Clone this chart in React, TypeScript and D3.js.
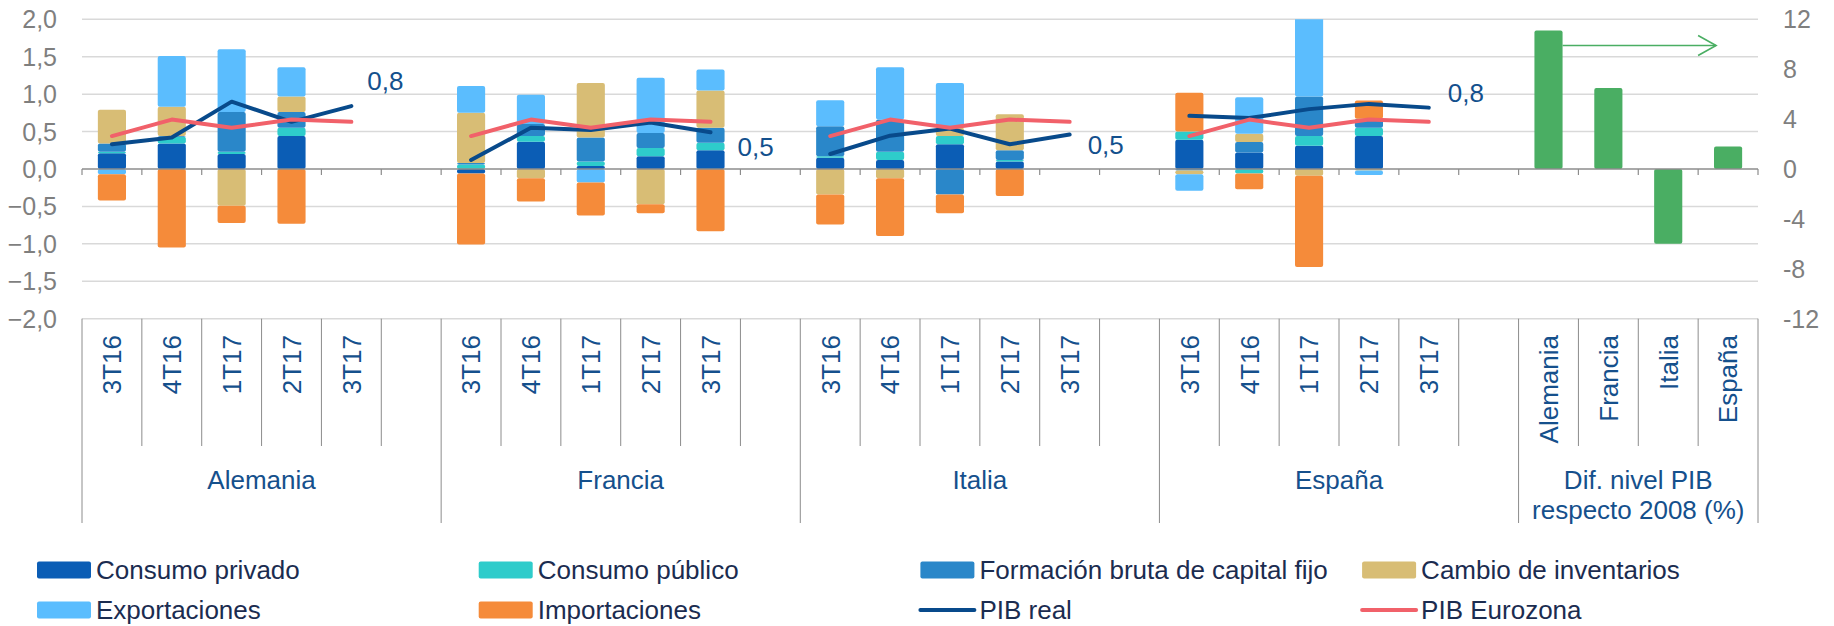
import React, { useEffect, useRef } from 'react'
import * as d3 from 'd3'

const countries = ['Alemania', 'Francia', 'Italia', 'España']
const quarters = ['3T16', '4T16', '1T17', '2T17', '3T17']

// contribuciones al crecimiento trimestral (pp), pais x trimestre (null = sin dato)
const consumoPrivado = [0.21, 0.34, 0.20, 0.44, null, -0.06, 0.365, 0.04, 0.17, 0.25, 0.15, 0.12, 0.33, 0.10, null, 0.39, 0.22, 0.31, 0.44, null]
const consumoPublico = [0.02, 0.09, 0.03, 0.11, null, 0.06, 0.076, 0.06, 0.11, 0.10, 0.02, 0.11, 0.11, 0.02, null, 0.11, -0.06, 0.13, 0.11, null]
const fbcf = [0.11, 0.01, 0.53, 0.21, null, 0.02, 0.16, 0.32, 0.20, 0.20, 0.40, 0.43, -0.34, 0.13, null, -0.02, 0.14, 0.53, 0.12, null]
const inventarios = [0.45, 0.39, -0.49, 0.21, null, 0.67, -0.125, 0.73, -0.47, 0.50, -0.34, -0.125, 0.11, 0.48, null, -0.05, 0.11, -0.09, -0.02, null]
const exportaciones = [-0.07, 0.68, 0.84, 0.39, null, 0.36, 0.39, -0.18, 0.74, 0.28, 0.35, 0.70, 0.60, 0, null, -0.22, 0.49, 1.12, -0.06, null]
const importaciones = [-0.35, -1.05, -0.23, -0.73, null, -0.95, -0.31, -0.44, -0.12, -0.83, -0.40, -0.77, -0.25, -0.36, null, 0.52, -0.21, -1.22, 0.245, null]

const pibReal = [0.33, 0.42, 0.90, 0.63, 0.84, 0.12, 0.55, 0.52, 0.62, 0.49, 0.20, 0.445, 0.54, 0.33, 0.46, 0.71, 0.68, 0.80, 0.87, 0.82]
const pibEurozona = [0.44, 0.66, 0.55, 0.66, 0.63]

// diferencia nivel PIB respecto 2008 (%), eje derecho
const difNivel = [11.1, 6.5, -6.0, 1.8]

const leftTicks = [2, 1.5, 1, 0.5, 0, -0.5, -1, -1.5, -2]
const rightTicks = [12, 8, 4, 0, -4, -8, -12]

const seriesNames = ['Consumo privado', 'Consumo público', 'Formación bruta de capital fijo', 'Cambio de inventarios', 'Exportaciones', 'Importaciones']
const seriesColors = ['#0b5db5', '#2ecccb', '#2a87c9', '#d8bd75', '#5bbdfe', '#f58b3a']
const seriesValues = [consumoPrivado, consumoPublico, fbcf, inventarios, exportaciones, importaciones]

const lineNames = ['PIB real', 'PIB Eurozona']
const lineColors = ['#084a8b', '#f1616a']
const green = '#4aae63'

// small nudges for the last-point labels (dx, dy)
const labelNudge = [[16, -25], [27, 14], [18, 10], [19, -15]]

const W = 1834, H = 626
const FONT = '"Liberation Sans", Arial, sans-serif'
const fmt = (v: number) => d3.format('.1f')(v).replace('.', ',')

function drawChart(el: SVGSVGElement) {
    const svg = d3.select(el)
    svg.selectAll('*').remove()

    const slots: string[] = []
    countries.forEach(c => {
        quarters.forEach(q => slots.push(c + '|' + q))
        slots.push(c + '|gap')
    })
    countries.forEach(c => slots.push('dif|' + c))

    const x = d3.scaleBand().domain(slots).range([82, 1758]).padding(0)
    const bw = x.bandwidth()
    const barW = bw * 0.47
    const y = d3.scaleLinear().domain([-2, 2]).range([318.7, 19.3])
    const yR = d3.scaleLinear().domain([-12, 12]).range([318.7, 19.3])
    const [x0, x1] = x.range()

    svg.append('defs').append('clipPath').attr('id', 'plotClip')
        .append('rect').attr('x', x0).attr('y', y(2)).attr('width', x1 - x0).attr('height', y(-2) - y(2))

    // gridlines
    svg.append('g').selectAll('line').data(leftTicks.filter(t => t !== 0)).join('line')
        .attr('x1', x0).attr('x2', x1)
        .attr('y1', d => y(d)).attr('y2', d => y(d))
        .attr('stroke', '#d9d9d9').attr('stroke-width', 1.5)

    // left ticks
    svg.append('g').selectAll('text').data(leftTicks).join('text')
        .attr('x', 57).attr('y', d => y(d)).attr('dy', '0.36em')
        .attr('text-anchor', 'end')
        .style('font-family', FONT).style('font-size', '25px').attr('fill', '#7f7f7f')
        .text(d => fmt(d))

    // right ticks
    svg.append('g').selectAll('text').data(rightTicks).join('text')
        .attr('x', 1783).attr('y', d => yR(d)).attr('dy', '0.36em')
        .style('font-family', FONT).style('font-size', '25px').attr('fill', '#7f7f7f')
        .text(d => String(d))

    // stacked bars
    const rows = countries.flatMap((c, ci) => quarters.map((q, qi) => {
        const row: any = { key: c + '|' + q }
        seriesNames.forEach((s, si) => { row[s] = seriesValues[si][ci * quarters.length + qi] ?? 0 })
        return row
    }))
    const stacked = d3.stack().keys(seriesNames).offset(d3.stackOffsetDiverging)(rows)

    const barsG = svg.append('g').attr('clip-path', 'url(#plotClip)')
    stacked.forEach((layer, li) => {
        barsG.append('g').selectAll('rect')
            .data(layer.filter(d => d[1] - d[0] !== 0))
            .join('rect')
            .attr('x', d => (x((d.data as any).key) as number) + (bw - barW) / 2)
            .attr('width', barW)
            .attr('y', d => y(Math.max(d[0], d[1])))
            .attr('height', d => Math.abs(y(d[0]) - y(d[1])))
            .attr('rx', 2)
            .attr('fill', seriesColors[li])
    })

    // green bars (right axis)
    svg.append('g').selectAll('rect').data(difNivel).join('rect')
        .attr('x', (d, i) => (x('dif|' + countries[i]) as number) + (bw - barW) / 2)
        .attr('width', barW)
        .attr('y', d => yR(Math.max(0, d)))
        .attr('height', d => Math.abs(yR(d) - yR(0)))
        .attr('rx', 2)
        .attr('fill', green)

    // arrow annotation
    const ax0 = (x('dif|Alemania') as number) + (bw + barW) / 2
    const ax1 = (x('dif|España') as number) + bw * 0.3
    const ay = yR(9.9)
    const arrow = svg.append('g').attr('stroke', green).attr('stroke-width', 1.6).attr('fill', 'none')
    arrow.append('line').attr('x1', ax0).attr('x2', ax1).attr('y1', ay).attr('y2', ay)
    arrow.append('path').attr('d', `M${ax1 - 18},${ay - 10}L${ax1},${ay}L${ax1 - 18},${ay + 10}`)

    // zero axis with ticks
    const axisG = svg.append('g').attr('stroke', '#8c8c8c')
    axisG.append('line').attr('x1', x0).attr('x2', x1).attr('y1', y(0)).attr('y2', y(0)).attr('stroke-width', 1.5)
    const bounds = slots.map(s => x(s) as number).concat([x1])
    axisG.selectAll('line.tk').data(bounds).join('line').attr('class', 'tk')
        .attr('x1', d => d).attr('x2', d => d).attr('y1', y(0)).attr('y2', y(0) + 6)
        .attr('stroke-width', 1.2)

    // category axis separators
    const groupStarts = new Set<number>()
    countries.forEach(c => groupStarts.add(x(c + '|' + quarters[0]) as number))
    groupStarts.add(x('dif|' + countries[0]) as number)
    groupStarts.add(x1)
    const catG = svg.append('g').attr('stroke', '#8c8c8c').attr('stroke-width', 1)
    catG.selectAll('line').data(bounds).join('line')
        .attr('x1', d => d).attr('x2', d => d)
        .attr('y1', y(-2)).attr('y2', d => groupStarts.has(d) ? 523 : 446)

    // inner labels (rotated)
    const innerLabels = countries.flatMap(c => quarters.map(q => ({ key: c + '|' + q, text: q })))
        .concat(countries.map(c => ({ key: 'dif|' + c, text: c })))
    svg.append('g').selectAll('text').data(innerLabels).join('text')
        .attr('transform', d => `translate(${(x(d.key) as number) + bw / 2},335) rotate(-90)`)
        .attr('text-anchor', 'end').attr('dy', '0.36em')
        .style('font-family', FONT).style('font-size', '26px').attr('fill', '#15508c')
        .text(d => d.text)

    // group labels
    const groups = countries.map(c => ({ cx: (x(c + '|' + quarters[0]) as number) + bw * 3, lines: [c] }))
    groups.push({ cx: (x('dif|' + countries[0]) as number) + bw * 2, lines: ['Dif. nivel PIB', 'respecto 2008 (%)'] })
    const gl = svg.append('g').selectAll('text').data(groups).join('text')
        .attr('text-anchor', 'middle')
        .style('font-family', FONT).style('font-size', '26px').attr('fill', '#15508c')
    gl.selectAll('tspan').data(d => d.lines.map((l, i) => ({ l, i, cx: d.cx }))).join('tspan')
        .attr('x', d => d.cx).attr('y', d => 489 + d.i * 30)
        .text(d => d.l)

    // lines
    const line = d3.line<{ key: string, v: number }>()
        .x(d => (x(d.key) as number) + bw / 2).y(d => y(d.v))
    const linesG = svg.append('g').attr('fill', 'none').attr('stroke-width', 4)
        .attr('stroke-linecap', 'round').attr('stroke-linejoin', 'round')
    countries.forEach((c, ci) => {
        const real = quarters.map((q, qi) => ({ key: c + '|' + q, v: pibReal[ci * quarters.length + qi] }))
        const euro = quarters.map((q, qi) => ({ key: c + '|' + q, v: pibEurozona[qi] }))
        linesG.append('path').attr('d', line(real)).attr('stroke', lineColors[0])
        linesG.append('path').attr('d', line(euro)).attr('stroke', lineColors[1])
        const last = real[real.length - 1]
        svg.append('text')
            .attr('x', (x(last.key) as number) + bw / 2 + labelNudge[ci][0])
            .attr('y', y(last.v) + labelNudge[ci][1]).attr('dy', '0.36em')
            .style('font-family', FONT).style('font-size', '26px').attr('fill', '#13508d')
            .text(fmt(last.v))
    })

    // legend
    const legendItems = [
        ...seriesNames.slice(0, 4).map((n, i) => ({ name: n, color: seriesColors[i], kind: 'rect' })),
        ...seriesNames.slice(4).map((n, i) => ({ name: n, color: seriesColors[i + 4], kind: 'rect' })),
        ...lineNames.map((n, i) => ({ name: n, color: lineColors[i], kind: 'line' })),
    ]
    const leg = svg.append('g').selectAll('g').data(legendItems).join('g')
        .attr('transform', (d, i) => `translate(${37 + (i % 4) * 441.7},${i < 4 ? 570 : 610})`)
    leg.filter(d => d.kind === 'rect').append('rect')
        .attr('x', 0).attr('y', -8.5).attr('width', 54).attr('height', 17).attr('rx', 2)
        .attr('fill', d => d.color)
    leg.filter(d => d.kind === 'line').append('line')
        .attr('x1', 0).attr('x2', 54).attr('y1', 0).attr('y2', 0)
        .attr('stroke', d => d.color).attr('stroke-width', 4).attr('stroke-linecap', 'round')
    leg.append('text').attr('x', 59).attr('y', 0).attr('dy', '0.36em')
        .style('font-family', FONT).style('font-size', '26px').attr('fill', '#1b2c50')
        .text(d => d.name)
}

export default function App() {
    const ref = useRef<SVGSVGElement>(null)
    useEffect(() => {
        if (ref.current) drawChart(ref.current)
    }, [])
    return (
        <div style={{ position: 'absolute', left: 0, top: 0, width: W, height: H, background: '#fff' }}>
            <svg ref={ref} width={W} height={H} style={{ display: 'block' }}></svg>
        </div>
    )
}
